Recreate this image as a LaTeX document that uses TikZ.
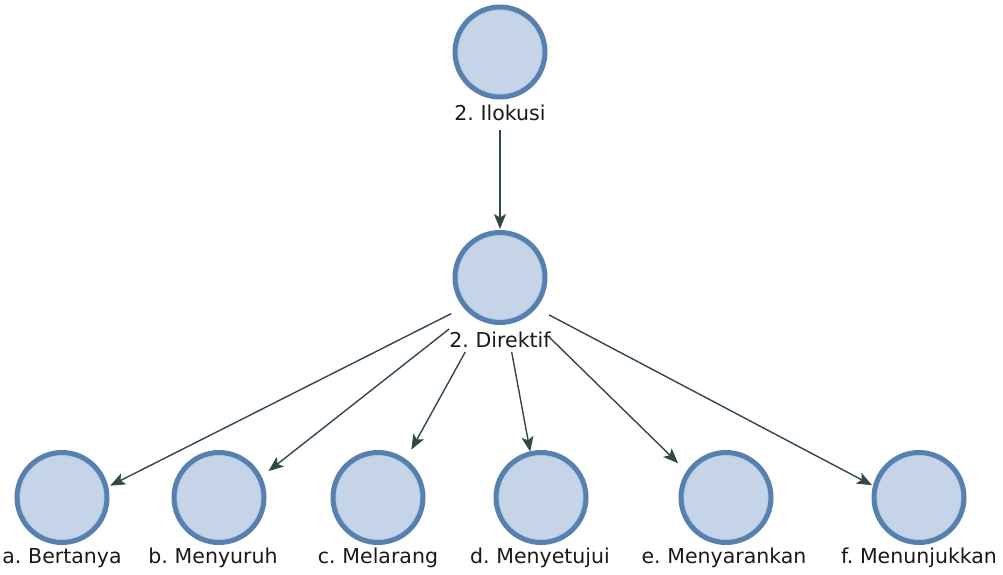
\documentclass[tikz,border=0pt]{standalone}
\usepackage{fontspec}
\setmainfont[WordSpace=0.7]{DejaVu Sans}
\usetikzlibrary{arrows.meta}
\definecolor{ringblue}{RGB}{88,128,174}
\definecolor{innerblue}{RGB}{178,205,236}
\definecolor{discfill}{RGB}{198,212,232}
\definecolor{linkgreen}{RGB}{48,74,66}
\tikzset{
  disc/.style={circle, minimum size=90pt, inner sep=0pt, fill=discfill,
    draw=ringblue, line width=5pt,
    path picture={\draw[innerblue, line width=2pt]
      (path picture bounding box.center) circle[radius=42.5pt];}},
  caption/.style={anchor=base, inner sep=0pt, text=black!90,
    font=\fontsize{20.5}{23}\selectfont},
  link/.style={draw=linkgreen, line width=1.4pt,
    -{Stealth[length=15pt,width=12pt,inset=3.5pt]}}
}
\begin{document}
\begin{tikzpicture}[x=1pt,y=-1pt]
\useasboundingbox (0,0) rectangle (1003,574);

% top level
\node[disc] (ilo) at (500,52) {};
\node[caption] (ilo-t) at (500,120) {2. Ilokusi};
\coordinate (ilo-hub) at (500,64);

% second level
\node[disc] (dir) at (500,277.5) {};
\node[caption] (dir-t) at (500,347) {2. Direktif};
\coordinate (dir-hub) at (500,289);

% leaves
\node[disc] (a) at (62,497.5) {};
\node[caption] (a-t) at (62,563) {a. Bertanya};
\coordinate (a-hub) at (62,510);

\node[disc] (b) at (219,497.5) {};
\node[caption] (b-t) at (213,563) {b. Menyuruh};
\coordinate (b-hub) at (219,510);

\node[disc] (c) at (378,497.5) {};
\node[caption] (c-t) at (378,563) {c. Melarang};
\coordinate (c-hub) at (378,510);

\node[disc] (d) at (541,497.5) {};
\node[caption] (d-t) at (540,563) {d. Menyetujui};
\coordinate (d-hub) at (541,510);

\node[disc] (e) at (726,497.5) {};
\node[caption] (e-t) at (724,563) {e. Menyarankan};
\coordinate (e-hub) at (726,510);

\node[disc] (f) at (919,497.5) {};
\node[caption] (f-t) at (919,563) {f. Menunjukkan};
\coordinate (f-hub) at (919,510);

% connectors run between the centres of disc+caption groups
\draw[link, shorten <=66pt, shorten >=60pt] (ilo-hub) -- (dir-hub);
\draw[link, shorten <=54.6pt, shorten >=54pt] (dir-hub) -- (a-hub);
\draw[link, shorten <=64.7pt, shorten >=63pt] (dir-hub) -- (b-hub);
\draw[link, shorten <=72pt, shorten >=69pt] (dir-hub) -- (c-hub);
\draw[link, shorten <=64pt, shorten >=59.4pt] (dir-hub) -- (d-hub);
\draw[link, shorten <=68.6pt, shorten >=67pt] (dir-hub) -- (e-hub);
\draw[link, shorten <=55.6pt, shorten >=53.2pt] (dir-hub) -- (f-hub);
\end{tikzpicture}
\end{document}
